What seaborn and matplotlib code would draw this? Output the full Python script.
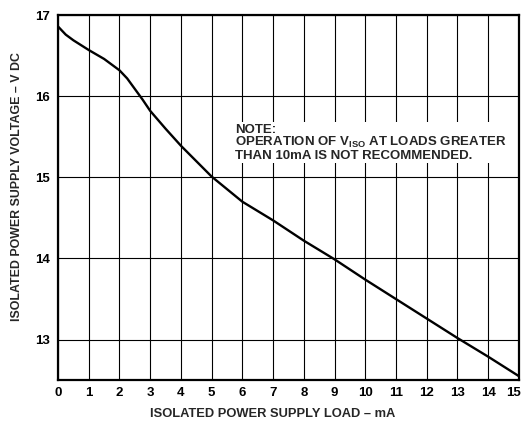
import numpy as np
import pandas as pd
import matplotlib
matplotlib.use("Agg")
import matplotlib.pyplot as plt
import matplotlib.transforms as mtransforms
import seaborn as sns

load_ma = [0, 0.25, 0.5, 1, 1.5, 2, 2.25, 2.5, 2.75, 3, 3.5, 4, 5, 6, 7, 8, 9, 10, 11, 12, 13, 14, 15]
voltage = [16.86, 16.76, 16.69, 16.57, 16.46, 16.32, 16.22, 16.09, 15.96, 15.82, 15.60, 15.39,
           15.01, 14.70, 14.47, 14.22, 13.99, 13.74, 13.50, 13.26, 13.02, 12.79, 12.55]
x_ticks = list(range(0, 16))
y_ticks = [13, 14, 15, 16, 17]

df = pd.DataFrame({"load": load_ma, "v": voltage})

sns.set_style("white")
plt.rcParams['font.family'] = ['Liberation Sans', 'DejaVu Sans']
plt.rcParams['font.weight'] = 'bold'
plt.rcParams['mathtext.fontset'] = 'custom'
plt.rcParams['mathtext.rm'] = 'Liberation Sans:bold'

fig = plt.figure(figsize=(5.23, 4.21), dpi=100)
ax = fig.add_axes([0.111, 0.097, 0.881, 0.867])

sns.lineplot(data=df, x="load", y="v", color="black", linewidth=1.7, ax=ax)

ax.set_xlim(0, 15)
ax.set_ylim(12.5, 17)
ax.set_xticks(x_ticks)
ax.set_yticks(y_ticks)
ax.grid(True, color="black", linewidth=0.8)
for s in ax.spines.values():
    s.set_color("black")
    s.set_linewidth(1.6)
ax.tick_params(axis="both", length=0, labelsize=9.5, colors="black")
ax.tick_params(axis="x", pad=5)
ax.tick_params(axis="y", pad=6)
for lab in ax.get_xticklabels() + ax.get_yticklabels():
    lab.set_fontweight("bold")
# keep the last x label inside the figure
last = ax.get_xticklabels()[-1]
last.set_transform(last.get_transform() + mtransforms.ScaledTranslation(-5 / 100, 0, fig.dpi_scale_trans))

ax.set_xlabel("ISOLATED POWER SUPPLY LOAD \u2013 mA", fontsize=9.3, fontweight="bold")
ax.set_ylabel("ISOLATED POWER SUPPLY VOLTAGE \u2013 V DC", fontsize=8.9, fontweight="bold")
ax.xaxis.set_label_coords(0.466, -0.077)
ax.yaxis.set_label_coords(-0.076, 0.53)

note = ("NOTE:\nOPERATION OF V$_{\\mathrm{ISO}}$ AT LOADS GREATER\n"
        "THAN 10mA IS NOT RECOMMENDED.")
ax.text(5.75, 15.66, note, fontsize=9.5, fontweight="bold", va="top", ha="left",
        linespacing=0.95,
        bbox=dict(facecolor="white", edgecolor="none", pad=1))

fig.savefig("out.png", dpi=100)
